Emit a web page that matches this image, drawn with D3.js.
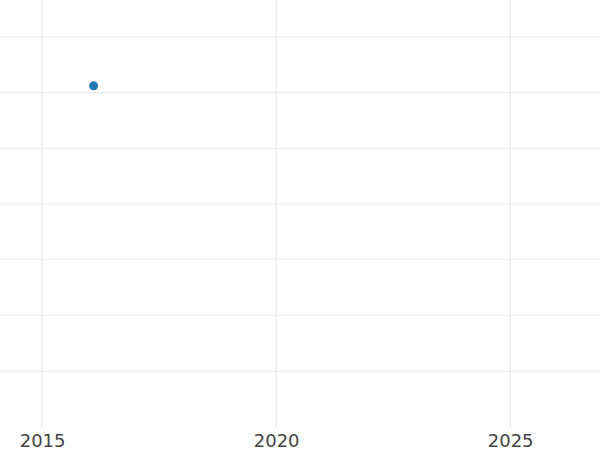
<!DOCTYPE html>
<html>
<head>
<meta charset="utf-8">
<script src="https://cdn.jsdelivr.net/npm/d3@7"></script>
<style>
  body { margin: 0; background: #fff; }
  svg { display: block; }
</style>
</head>
<body>
<div id="chart"></div>
<script>
  var width = 600;
  var height = 450;

  // data
  var years = [2016.1];
  var values = [6.12];
  var xTicks = [2015, 2020, 2025];
  var yTicks = [1, 2, 3, 4, 5, 6, 7];

  var points = years.map(function (d, i) { return { x: d, y: values[i] }; });

  var x = d3.scaleLinear().domain([2014.1, 2026.92]).range([0, width]);
  var y = d3.scaleLinear().domain([0, 7.66]).range([427, 0]);

  var svg = d3.select("#chart").append("svg")
    .attr("width", width)
    .attr("height", height);

  // grid
  svg.append("g")
    .selectAll("line")
    .data(yTicks)
    .join("line")
      .attr("x1", 0).attr("x2", width)
      .attr("y1", d => y(d)).attr("y2", d => y(d))
      .attr("stroke", "#ebebeb")
      .attr("stroke-width", 1.2);

  svg.append("g")
    .selectAll("line")
    .data(xTicks)
    .join("line")
      .attr("x1", d => x(d)).attr("x2", d => x(d))
      .attr("y1", 0).attr("y2", y(0))
      .attr("stroke", "#ebebeb")
      .attr("stroke-width", 1.5);

  // x axis, labels only
  var xAxis = d3.axisBottom(x).tickValues(xTicks).tickFormat(d3.format("d")).tickSize(0).tickPadding(7);
  var gx = svg.append("g")
    .attr("transform", `translate(0,${y(0)})`)
    .call(xAxis);
  gx.select(".domain").remove();
  gx.selectAll("text")
    .attr("fill", "#444")
    .attr("font-family", "DejaVu Sans")
    .attr("font-size", 18);

  svg.append("g")
    .selectAll("circle")
    .data(points)
    .join("circle")
      .attr("cx", d => x(d.x))
      .attr("cy", d => y(d.y))
      .attr("r", 4.5)
      .attr("fill", "#1f77b4");
</script>
</body>
</html>
